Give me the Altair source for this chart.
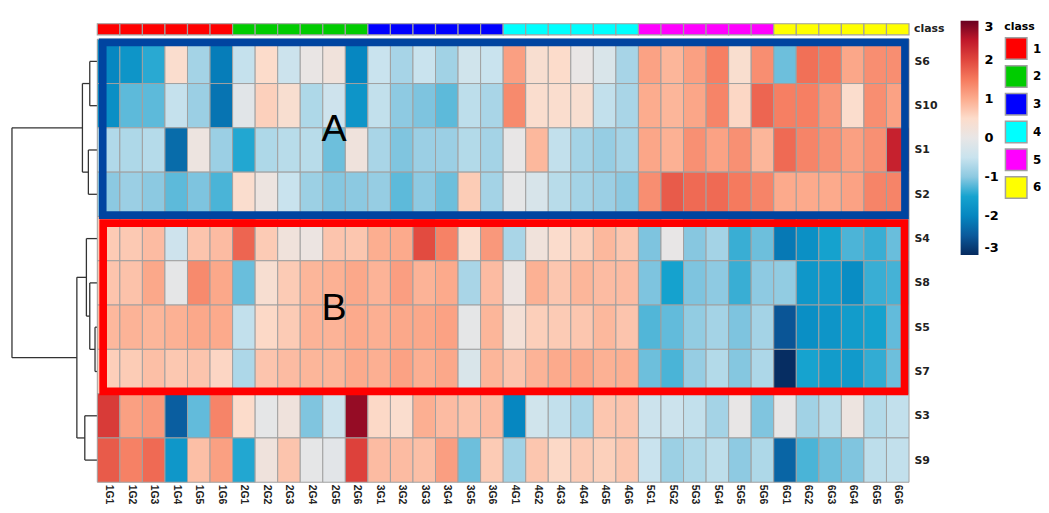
import json
import altair as alt
import pandas as pd

# ---------------- data ----------------
columns = ["1G1", "1G2", "1G3", "1G4", "1G5", "1G6",
           "2G1", "2G2", "2G3", "2G4", "2G5", "2G6",
           "3G1", "3G2", "3G3", "3G4", "3G5", "3G6",
           "4G1", "4G2", "4G3", "4G4", "4G5", "4G6",
           "5G1", "5G2", "5G3", "5G4", "5G5", "5G6",
           "6G1", "6G2", "6G3", "6G4", "6G5", "6G6"]
column_class = ["1"] * 6 + ["2"] * 6 + ["3"] * 6 + ["4"] * 6 + ["5"] * 6 + ["6"] * 6
rows = ["S6", "S10", "S1", "S2", "S4", "S8", "S5", "S7", "S3", "S9"]

S6 = [-1.98, -1.75, -1.42, 0.45, -0.8, -2.1, -0.53, 0.5, -0.45, 0.03, 0.2, -1.98,
      -0.5, -0.78, -0.5, -0.83, -0.38, -0.5, 1.13, 0.4, 0.5, 0.02, -0.25, -0.78,
      1.1, 0.9, 1.12, 1.45, 0.42, 1.3, -1.13, 1.6, 1.5, 1.05, 1.3, 1.3]
S10 = [-1.85, -1.2, -1.2, -0.53, -0.88, -2.2, -0.12, 0.62, 0.4, -0.72, -0.42, -1.75,
       -0.56, -0.98, -1.06, -1.2, -0.6, -0.76, 1.34, 0.45, 0.45, 0.4, -0.56, -0.76,
       1.0, 0.9, 1.06, 1.4, 0.55, 1.7, 1.45, 1.45, 1.22, 0.47, 1.3, 1.1]
S1 = [-0.7, -0.72, -0.66, -2.3, 0.12, -0.88, -1.45, -0.72, -0.64, -0.64, -1.13, 0.18,
      -0.76, -1.05, -0.88, -0.88, -0.68, -0.8, 0.0, 0.88, -0.56, -0.8, -0.92, -0.8,
      1.06, 0.95, 1.28, 1.1, 1.28, 0.9, 1.65, 1.4, 1.28, 1.12, 1.28, 2.4]
S2 = [-1.0, -0.88, -1.0, -1.2, -1.06, -1.28, 0.45, 0.12, -0.5, -0.87, -1.03, -1.0,
      -0.92, -1.2, -0.98, -1.13, 0.67, -0.8, -0.05, -0.28, -0.64, -0.8, -0.88, -1.0,
      1.3, 1.8, 1.65, 1.65, 1.5, 1.4, 1.02, 1.02, 1.02, 1.1, 1.4, 1.4]
S4 = [0.68, 0.7, 0.84, -0.42, 0.75, 0.84, 1.7, 0.68, 0.2, 0.1, 0.75, 0.73,
      0.98, 1.02, 1.95, 1.42, 0.45, 1.2, -0.76, 0.2, 0.48, 0.63, 0.88, 0.73,
      -1.06, 0.0, -1.02, -0.8, -1.35, -1.13, -2.15, -1.82, -1.52, -1.27, -1.35, -1.15]
S8 = [0.75, 0.77, 1.04, -0.05, 1.34, 1.04, -1.15, 0.38, 0.68, 0.9, 0.95, 1.04,
      0.93, 1.14, 0.93, 1.02, -0.76, 0.84, 0.1, 0.95, 0.73, 0.9, 0.84, 0.84,
      -1.06, -1.52, -1.06, -0.98, -1.35, -0.98, -0.95, -1.7, -1.65, -1.88, -1.35, -1.3]
S5 = [0.88, 0.93, 0.9, 0.95, 1.04, 1.02, -0.56, 0.53, 0.68, 0.93, 0.93, 1.02,
      0.97, 1.04, 1.04, 1.1, -0.05, 0.9, 0.3, 0.64, 0.68, 0.73, 0.88, 0.75,
      -1.25, -1.18, -0.95, -0.8, -1.06, -0.8, -2.55, -1.85, -1.75, -1.62, -1.52, -1.18]
S7 = [0.64, 0.67, 0.8, 0.71, 0.75, 0.56, -0.73, 0.75, 0.84, 0.9, 0.9, 1.02,
      0.97, 1.1, 0.97, 1.04, -0.25, 0.9, 0.75, 0.93, 1.02, 1.04, 0.95, 0.97,
      -1.13, -1.28, -0.92, -0.68, -1.03, -0.73, -2.97, -1.5, -1.62, -1.65, -1.38, -1.13]
S3 = [2.12, 1.12, 1.2, -2.45, -1.18, 1.4, 0.5, -0.05, 0.18, -1.05, -0.45, 2.75,
      0.53, 0.45, 0.97, 0.84, 0.77, 0.84, -1.98, -0.38, -0.56, -0.76, 0.73, 0.75,
      -0.45, -0.45, -0.56, -0.8, 0.0, -1.05, 0.0, -0.83, -0.64, 0.12, -0.68, -0.56]
S9 = [1.8, 1.43, 1.65, -1.7, 0.8, 1.12, -1.45, 0.18, 0.75, -0.05, -0.1, 2.05,
      0.84, 0.84, 0.8, 1.14, -1.13, 0.68, -0.83, 0.73, 0.53, 0.68, 0.63, 0.73,
      -0.5, -0.87, -0.72, -0.6, -0.98, -0.72, -2.38, -1.28, -1.13, -1.05, -0.6, -0.56]
row_values = [S6, S10, S1, S2, S4, S8, S5, S7, S3, S9]

# dendrogram merges: (left, right, height, new node)
merge_left = ["S6", "S1", "n1", "S5", "S8", "S4", "S3", "n5", "A"]
merge_right = ["S10", "S2", "n2", "S7", "n3", "n4", "S9", "n6", "B"]
merge_height = [7.6, 9.0, 15.0, 2.3, 7.6, 11.0, 12.6, 20.6, 86.0]
merge_name = ["n1", "n2", "A", "n3", "n4", "n5", "n6", "B", "root"]

class_names = ["1", "2", "3", "4", "5", "6"]
class_colors = ["#ff0000", "#00cc00", "#0000ff", "#00ffff", "#ff00ff", "#ffff00"]

# cluster boxes (row spans)
box_names = ["A", "B"]
box_first_row = [0, 4]
box_last_row = [3, 7]
box_colors = ["#0044a0", "#ff0000"]

# ---------------- tables ----------------
cells = []
for ri, vals in enumerate(row_values):
    for ci, v in enumerate(vals):
        cells.append(dict(x=ci, x2=ci + 1, y=ri, y2=ri + 1, v=v))
cells = pd.DataFrame(cells)

classbar = pd.DataFrame(dict(x=list(range(36)), x2=[i + 1 for i in range(36)],
                             y=[-0.35] * 36, y2=[-0.1] * 36, cls=column_class))

pos = {r: i + 0.5 for i, r in enumerate(rows)}
hgt = {r: 0.0 for r in rows}
segs = []
for a, b, h, n in zip(merge_left, merge_right, merge_height, merge_name):
    segs.append(dict(h1=h, h2=h, y1=pos[a], y2=pos[b]))
    segs.append(dict(h1=hgt[a], h2=h, y1=pos[a], y2=pos[a]))
    segs.append(dict(h1=hgt[b], h2=h, y1=pos[b], y2=pos[b]))
    pos[n] = (pos[a] + pos[b]) / 2
    hgt[n] = h
segs = pd.DataFrame(segs)

boxes = pd.DataFrame(dict(
    name=box_names,
    x=[0.24, 0.26], x2=[35.82, 35.8],
    y=[box_first_row[0] + 0.07, box_first_row[1] + 0.15],
    y2=[box_last_row[0] + 0.97, box_last_row[1] + 0.95],
    c=box_colors))

letters = pd.DataFrame(dict(t=["A", "B"], x=[10.5, 10.5], y=[2.05, 6.1]))
class_lab = pd.DataFrame(dict(t=["class"], x=[36], y=[-0.22]))

# ---------------- scales ----------------
FONT = "DejaVu Sans"
xs = alt.Scale(domain=[0, 36], range=[86, 904], nice=False, zero=False)
ys = alt.Scale(domain=[-0.55, 10], reverse=True, nice=False, zero=False)
cscale = alt.Scale(
    domain=[-3, -2.5, -2, -1.5, -1, -0.5, 0, 0.5, 1, 1.5, 2, 2.5, 3],
    range=["#062a5e", "#0a5a9c", "#0586c0", "#16a3cf", "#8cc9e1", "#c9e3ee", "#e8e6e6",
           "#fcdccb", "#fcac8e", "#f57a5e", "#e0463d", "#c0182a", "#6a0020"],
    interpolate="rgb")

x_axis = alt.Axis(values=[i + 0.5 for i in range(36)],
                  labelExpr=json.dumps(columns) + "[floor(datum.value)]",
                  labelAngle=90, labelOverlap=False, labelBound=False,
                  ticks=False, domain=False, grid=False, title=None,
                  labelFont="Liberation Sans", labelFontSize=10.5, labelFontWeight="bold",
                  labelPadding=2, labelColor="#222", orient="bottom")
y_axis = alt.Axis(values=[i + 0.5 for i in range(10)],
                  labelExpr=json.dumps(rows) + "[floor(datum.value)]",
                  labelOverlap=False,
                  ticks=False, domain=False, grid=False, title=None,
                  labelFont=FONT, labelFontSize=11, labelFontWeight="bold",
                  labelPadding=5, labelColor="#222", orient="right")

heat = alt.Chart(cells).mark_rect(stroke="#a0a0a0", strokeWidth=1).encode(
    x=alt.X("x:Q", scale=xs, axis=x_axis), x2="x2:Q",
    y=alt.Y("y:Q", scale=ys, axis=y_axis), y2="y2:Q",
    color=alt.Color("v:Q", scale=cscale, title=None,
                    legend=alt.Legend(orient="none", legendX=956, legendY=6,
                                      direction="vertical", gradientLength=236,
                                      gradientThickness=18, values=[-3, -2, -1, 0, 1, 2, 3],
                                      labelExpr="'' + datum.value",
                                      labelFont=FONT, labelFontSize=13, labelFontWeight="bold",
                                      labelOffset=6, gradientStrokeWidth=0, padding=0)))

cbar = alt.Chart(classbar).mark_rect(stroke="#a0a0a0", strokeWidth=1.2).encode(
    x=alt.X("x:Q", scale=xs, axis=x_axis), x2="x2:Q",
    y=alt.Y("y:Q", scale=ys, axis=y_axis), y2="y2:Q",
    fill=alt.Fill("cls:N", scale=alt.Scale(domain=class_names, range=class_colors),
                  title="class",
                  legend=alt.Legend(orient="none", legendX=1000, legendY=6,
                                    symbolType="square", symbolSize=470,
                                    symbolStrokeColor="#a0a0a0", symbolStrokeWidth=1.5,
                                    symbolOpacity=1, rowPadding=0, labelOffset=5,
                                    labelFont=FONT, labelFontSize=12, labelFontWeight="bold",
                                    titleFont=FONT, titleFontSize=11, titleFontWeight="bold",
                                    titlePadding=5, padding=0)))

box = alt.Chart(boxes).mark_rect(filled=False, strokeWidth=7.7).encode(
    x=alt.X("x:Q", scale=xs, axis=x_axis), x2="x2:Q",
    y=alt.Y("y:Q", scale=ys, axis=y_axis), y2="y2:Q",
    stroke=alt.Stroke("c:N", scale=None))

letter = alt.Chart(letters).mark_text(font="Liberation Sans", fontSize=38,
                                      baseline="middle", align="center", color="black").encode(
    x=alt.X("x:Q", scale=xs, axis=x_axis), y=alt.Y("y:Q", scale=ys, axis=y_axis), text="t:N")

clab = alt.Chart(class_lab).mark_text(font=FONT, fontSize=11, fontWeight="bold",
                                      align="left", baseline="middle", dx=5, color="#222").encode(
    x=alt.X("x:Q", scale=xs, axis=x_axis), y=alt.Y("y:Q", scale=ys, axis=y_axis), text="t:N")

main = alt.layer(heat, cbar, box, letter, clab)

dendro = alt.Chart(segs).mark_rule(color="#333333", strokeWidth=1.3).encode(
    x=alt.X("h1:Q", scale=alt.Scale(domain=[0, 86], range=[86, 0], nice=False, zero=False), axis=None),
    x2="h2:Q",
    y=alt.Y("y1:Q", scale=ys, axis=y_axis), y2="y2:Q")

chart = alt.layer(dendro, main).resolve_scale(x="independent").properties(
    width=904, height=471,
    autosize=alt.AutoSizeParams(type="none"),
    padding={"left": 4, "top": 5, "right": 133, "bottom": 20},
).configure_view(stroke=None).configure_axis(labelOverlap=False)

chart.save("out.html", embed_options={"renderer": "svg", "actions": False})
